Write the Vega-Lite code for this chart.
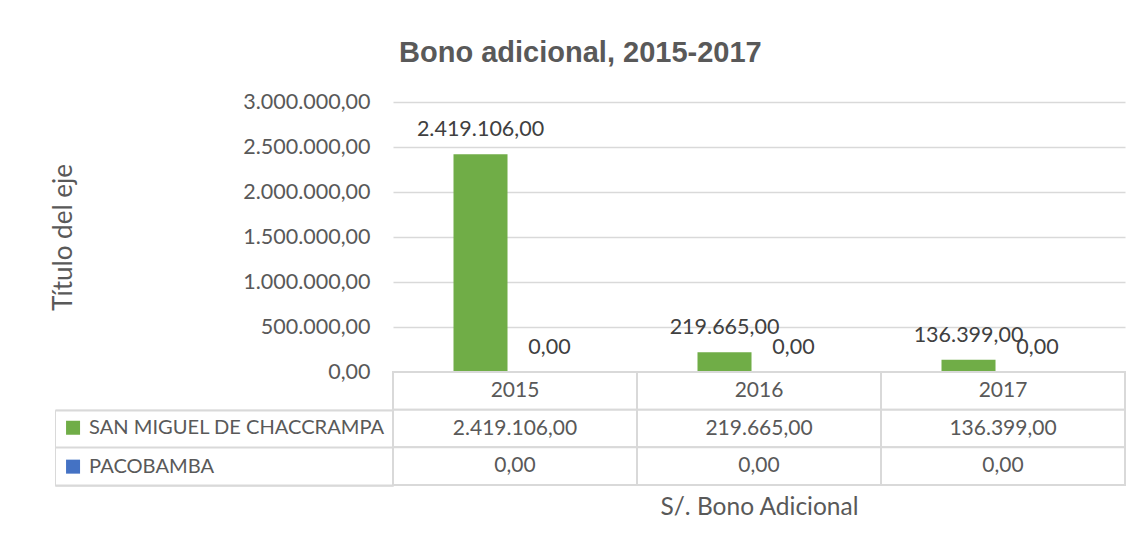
{
  "$schema": "https://vega.github.io/schema/vega-lite/v6.json",
  "background": "white",
  "padding": {"left": 50, "top": 39, "right": 10, "bottom": 10},
  "config": {
    "font": "Lato",
    "locale": {"number": {"decimal": ",", "thousands": ".", "grouping": [3], "currency": ["", ""]}},
    "view": {"stroke": null},
    "axis": {"labelFont": "Lato", "titleFont": "Lato", "labelColor": "#595959", "titleColor": "#595959", "titleFontWeight": "normal"}
  },
  "title": {"text": "Bono adicional, 2015-2017", "font": "Liberation Sans", "fontSize": 29, "fontWeight": "bold", "color": "#595959", "anchor": "middle", "offset": 23, "dx": -8},
  "data": {"values": [
    {"year": "2015", "series": "SAN MIGUEL DE CHACCRAMPA", "value": 2419106},
    {"year": "2015", "series": "PACOBAMBA", "value": 0},
    {"year": "2016", "series": "SAN MIGUEL DE CHACCRAMPA", "value": 219665},
    {"year": "2016", "series": "PACOBAMBA", "value": 0},
    {"year": "2017", "series": "SAN MIGUEL DE CHACCRAMPA", "value": 136399},
    {"year": "2017", "series": "PACOBAMBA", "value": 0}
  ]},
  "spacing": 0,
  "bounds": "flush",
  "resolve": {"scale": {"color": "independent", "x": "independent", "y": "independent"}, "legend": {"color": "independent"}},
  "vconcat": [
    {
      "width": 732,
      "height": 270,
      "encoding": {
        "x": {"field": "year", "type": "nominal", "scale": {"paddingInner": 0, "paddingOuter": 0}, "axis": null},
        "xOffset": {"field": "series", "type": "nominal", "scale": {"domain": ["SAN MIGUEL DE CHACCRAMPA", "PACOBAMBA"], "paddingInner": 0.217, "paddingOuter": 0.877}}
      },
      "layer": [
        {
          "mark": {"type": "bar"},
          "encoding": {
            "y": {"field": "value", "type": "quantitative", "scale": {"domain": [0, 3000000], "nice": false},
              "axis": {"values": [0, 500000, 1000000, 1500000, 2000000, 2500000, 3000000], "format": ",.2f", "labelFontSize": 21.5, "labelPadding": 23, "ticks": false, "domain": false, "gridColor": "#d9d9d9", "gridWidth": 1.3, "title": "Título del eje", "titleFontSize": 26, "titlePadding": 166}},
            "color": {"field": "series", "type": "nominal", "scale": {"domain": ["SAN MIGUEL DE CHACCRAMPA", "PACOBAMBA"], "range": ["#70ad47", "#4472c4"]}, "legend": null}
          }
        },
        {
          "mark": {"type": "text", "baseline": "alphabetic", "dy": -18, "fontSize": 21.5, "color": "#404040"},
          "encoding": {
            "y": {"field": "value", "type": "quantitative"},
            "text": {"field": "value", "type": "quantitative", "format": ",.2f"}
          }
        }
      ]
    },
    {
      "width": 732,
      "height": 113,
      "encoding": {
        "x": {"field": "year", "type": "nominal", "scale": {"paddingInner": 0, "paddingOuter": 0},
          "axis": {"labels": false, "ticks": false, "domain": false, "title": "S/. Bono Adicional", "titleFontSize": 24.5, "titlePadding": 10}}
      },
      "layer": [
        {
          "transform": [{"filter": "datum.series == 'PACOBAMBA'"}],
          "mark": {"type": "rect", "fill": "white", "stroke": "#d9d9d9", "strokeWidth": 2},
          "encoding": {
            "y": {"datum": "hdr", "type": "nominal", "scale": {"domain": ["hdr", "SAN MIGUEL DE CHACCRAMPA", "PACOBAMBA"], "paddingInner": 0, "paddingOuter": 0},
              "axis": {"values": ["SAN MIGUEL DE CHACCRAMPA", "PACOBAMBA"], "labels": false, "domain": false, "title": null, "tickBand": "extent", "tickSize": 338, "tickWidth": 2, "tickColor": "#d9d9d9"}}
          }
        },
        {
          "mark": {"type": "rect", "fill": "white", "stroke": "#d9d9d9", "strokeWidth": 2},
          "encoding": {
            "y": {"field": "series", "type": "nominal"}
          }
        },
        {
          "transform": [{"filter": "datum.series == 'PACOBAMBA'"}],
          "mark": {"type": "text", "fontSize": 21, "color": "#595959", "baseline": "middle"},
          "encoding": {
            "y": {"datum": "hdr", "type": "nominal"},
            "text": {"field": "year", "type": "nominal"}
          }
        },
        {
          "mark": {"type": "text", "fontSize": 21, "color": "#595959", "baseline": "middle"},
          "encoding": {
            "y": {"field": "series", "type": "nominal"},
            "text": {"field": "value", "type": "quantitative", "format": ",.2f"}
          }
        },
        {
          "mark": {"type": "square", "opacity": 0, "size": 196},
          "encoding": {
            "y": {"field": "series", "type": "nominal"},
            "color": {"field": "series", "type": "nominal", "scale": {"domain": ["SAN MIGUEL DE CHACCRAMPA", "PACOBAMBA"], "range": ["#70ad47", "#4472c4"]},
              "legend": {"orient": "none", "legendX": -338, "legendY": 37.7, "title": null, "symbolType": "square", "symbolSize": 196, "symbolStrokeWidth": 0, "symbolOpacity": 1, "labelFont": "Lato", "labelFontSize": 20.1, "labelColor": "#595959", "labelOffset": 6, "labelLimit": 400, "rowPadding": 17.9, "padding": 8, "strokeColor": "#d9d9d9"}}
          }
        }
      ]
    }
  ]
}
